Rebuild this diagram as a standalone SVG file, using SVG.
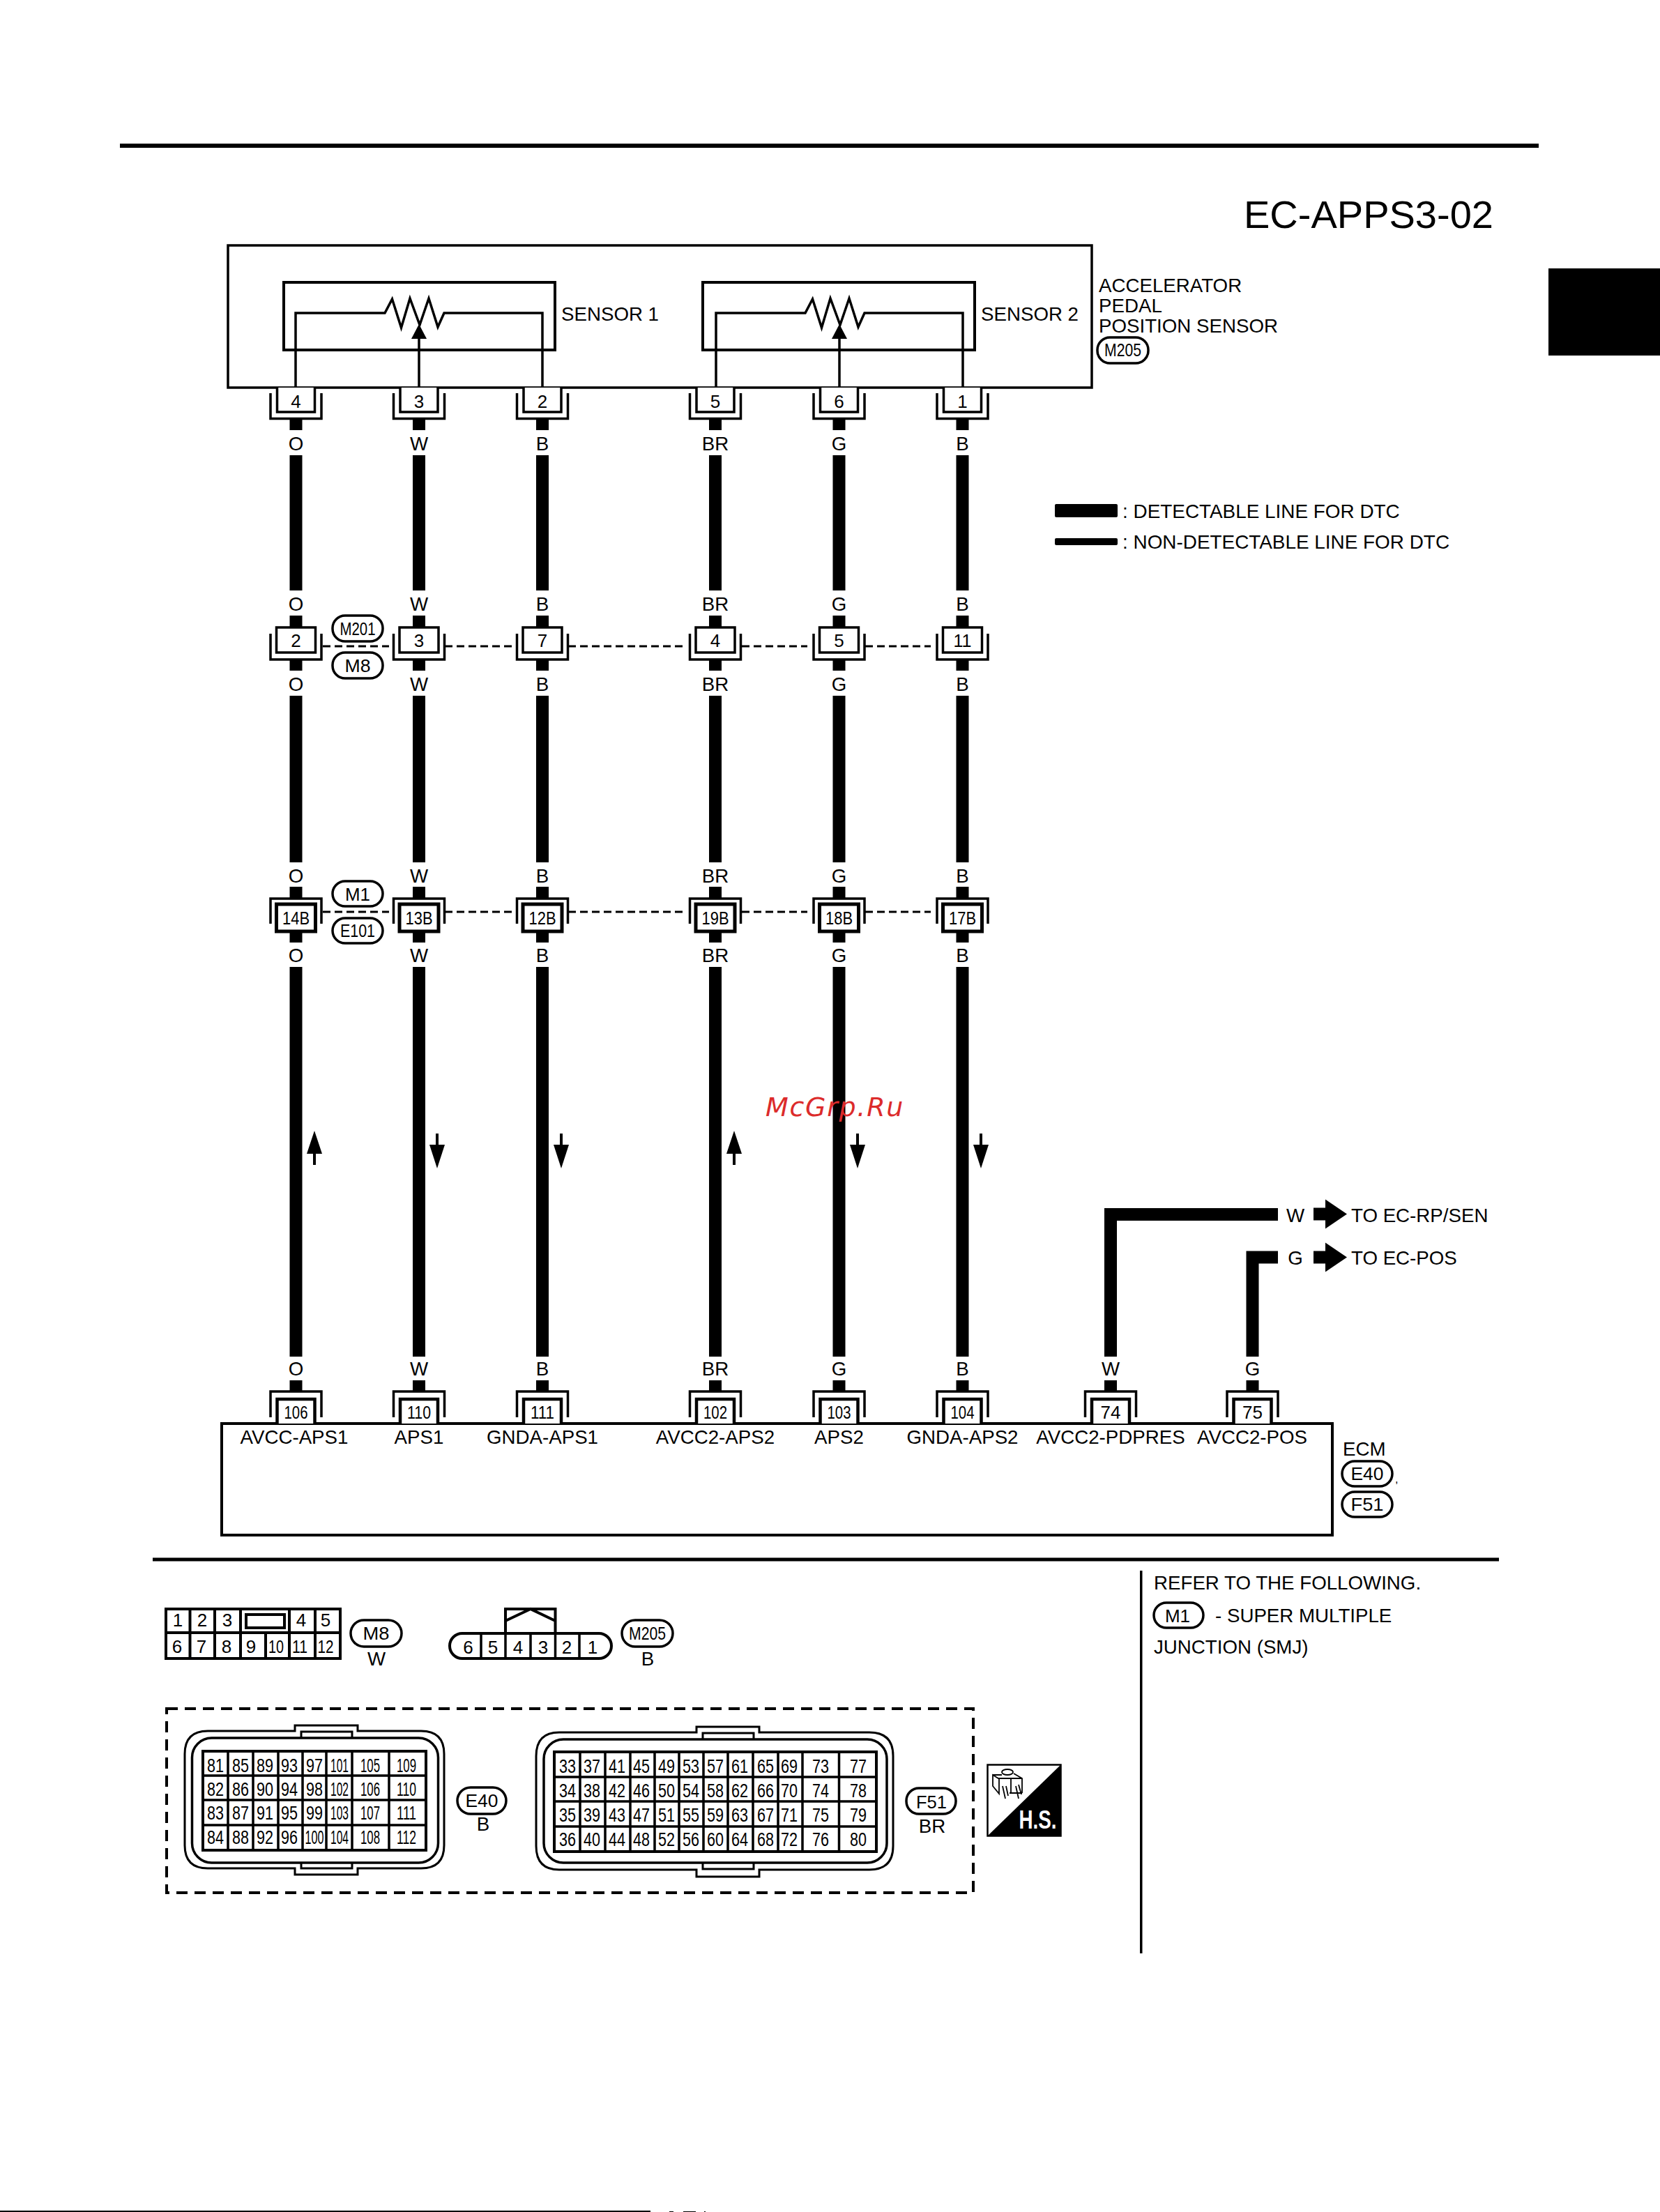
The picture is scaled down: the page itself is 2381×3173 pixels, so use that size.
<svg xmlns="http://www.w3.org/2000/svg" width="2381" height="3173" viewBox="0 0 2381 3173">
<style>
text{font-family:"Liberation Sans",Arial,sans-serif;fill:#000}
.t{font-size:27.700px;text-anchor:middle}
.s{font-size:27.700px}
.n{font-size:26px;text-anchor:middle}
.g{font-size:28px;text-anchor:middle}
.l{fill:none;stroke:#000;stroke-width:3.5}
.b{fill:#fff;stroke:#000;stroke-width:3.5}
.p{fill:#fff;stroke:#000;stroke-width:3.5}
.k{fill:#000}
.w{fill:none;stroke:#000;stroke-width:18}
.d{fill:none;stroke:#000;stroke-width:3;stroke-dasharray:11 6}
.w4{fill:none;stroke:#000;stroke-width:4}
</style>
<defs>
<g id="r"><path class="l" stroke-width="4" d="M424 556V449H552L562.500 429L575.500 470L588 428L602 466L615 428L628 469L637 449H778V556"/><path class="l" d="M601 556V480"/><path class="k" d="M601 465L612 486H590Z"/></g>
<g id="ca"><path class="b" d="M-27 556V591H27V556"/><path class="l" d="M-36.500 564V600.500H36.500V564"/></g>
<g id="cb"><rect class="b" x="-28" y="900" width="56" height="36"/><path class="l" d="M-36.500 909V946H36.500V909"/></g>
<g id="cc"><rect class="b" style="stroke-width:5" x="-28" y="1297" width="56" height="39"/><path class="l" d="M-36.500 1325V1289H36.500V1325"/></g>
<g id="cd"><path class="b" style="stroke-width:4.500" d="M-27 2042V2007H27V2042"/><path class="l" d="M-36.500 2033V1996H36.500V2033"/></g>
<path id="wire" class="w" d="M0 600V617M0 653V847M0 883V900M0 946V962M0 998V1237M0 1272V1289M0 1336V1352M0 1387V1946M0 1980V1996"/>
<g id="up"><path class="k" d="M0 1622L11 1655H-11Z"/><path class="w4" d="M0 1655V1671"/></g>
<g id="dn"><path class="k" d="M0 1676L11 1642H-11Z"/><path class="w4" d="M0 1642V1626"/></g>
<path id="arr" class="k" d="M0 -9H17V-21L48 0L17 21V9H0Z"/>
</defs>
<rect width="2381" height="3173" fill="#fff"/>

<g id="page-frame">
<rect class="k" x="172" y="206" width="2035" height="6"/>
<rect class="k" x="2221" y="385" width="160" height="125"/>
<rect class="k" x="0" y="3171" width="933" height="2"/>
<path class="k" d="M960 3172h6v1h-6zM980 3172h18v1h-18zM1010 3172h2v1h-2z"/>
<text x="1784" y="327" style="font-size:56px">EC-APPS3-02</text>
</g>

<g id="connectors">
<use href="#wire" x="424.500"/><use href="#wire" x="601"/><use href="#wire" x="778"/><use href="#wire" x="1026"/><use href="#wire" x="1203.500"/><use href="#wire" x="1380.500"/>
<path class="w" d="M1593 1946V1742H1833"/>
<path class="w" d="M1796.500 1946V1803.500H1833"/>
<path class="w" d="M1593 1980V1996M1796.500 1980V1996"/>
<path class="d" d="M463 927H558M638 927H735M815 927H981M1064 927H1158M1241 927H1335"/>
<path class="d" d="M463 1308H558M638 1308H735M815 1308H981M1064 1308H1158M1241 1308H1335"/>
<use href="#up" x="451"/><use href="#dn" x="627"/><use href="#dn" x="805"/><use href="#up" x="1053"/><use href="#dn" x="1230"/><use href="#dn" x="1407"/>
</g>

<g id="sensor">
<rect class="l" x="327" y="352" width="1239" height="204"/>
<rect class="l" style="stroke-width:4" x="407" y="405" width="389" height="97"/>
<rect class="l" style="stroke-width:4" x="1008" y="405" width="390" height="97"/>
<use href="#r"/><use href="#r" x="603"/>
<text class="s" x="805" y="460">SENSOR 1</text>
<text class="s" x="1407" y="460">SENSOR 2</text>
<text class="s" x="1576" y="419">ACCELERATOR</text>
<text class="s" x="1576" y="448">PEDAL</text>
<text class="s" x="1576" y="477">POSITION SENSOR</text>
<rect class="p" x="1574" y="484" width="73" height="37" rx="18"/>
<text class="n" x="1610.500" y="511" textLength="53" lengthAdjust="spacingAndGlyphs">M205</text>
</g>

<g id="sensor-pins">
<use href="#ca" x="424.500"/><text class="n" x="424.500" y="585">4</text>
<use href="#ca" x="601"/><text class="n" x="601" y="585">3</text>
<use href="#ca" x="778"/><text class="n" x="778" y="585">2</text>
<use href="#ca" x="1026"/><text class="n" x="1026" y="585">5</text>
<use href="#ca" x="1203.500"/><text class="n" x="1203.500" y="585">6</text>
<use href="#ca" x="1380.500"/><text class="n" x="1380.500" y="585">1</text>
</g>

<g id="wire-labels">
<text class="t" x="424.500" y="646">O</text><text class="t" x="601" y="646">W</text><text class="t" x="778" y="646">B</text><text class="t" x="1026" y="646">BR</text><text class="t" x="1203.500" y="646">G</text><text class="t" x="1380.500" y="646">B</text>
<text class="t" x="424.500" y="876">O</text><text class="t" x="601" y="876">W</text><text class="t" x="778" y="876">B</text><text class="t" x="1026" y="876">BR</text><text class="t" x="1203.500" y="876">G</text><text class="t" x="1380.500" y="876">B</text>
<text class="t" x="424.500" y="991">O</text><text class="t" x="601" y="991">W</text><text class="t" x="778" y="991">B</text><text class="t" x="1026" y="991">BR</text><text class="t" x="1203.500" y="991">G</text><text class="t" x="1380.500" y="991">B</text>
<text class="t" x="424.500" y="1266">O</text><text class="t" x="601" y="1266">W</text><text class="t" x="778" y="1266">B</text><text class="t" x="1026" y="1266">BR</text><text class="t" x="1203.500" y="1266">G</text><text class="t" x="1380.500" y="1266">B</text>
<text class="t" x="424.500" y="1380">O</text><text class="t" x="601" y="1380">W</text><text class="t" x="778" y="1380">B</text><text class="t" x="1026" y="1380">BR</text><text class="t" x="1203.500" y="1380">G</text><text class="t" x="1380.500" y="1380">B</text>
<text class="t" x="424.500" y="1973">O</text><text class="t" x="601" y="1973">W</text><text class="t" x="778" y="1973">B</text><text class="t" x="1026" y="1973">BR</text><text class="t" x="1203.500" y="1973">G</text><text class="t" x="1380.500" y="1973">B</text>
<text class="t" x="1593" y="1973">W</text><text class="t" x="1796.500" y="1973">G</text>
</g>

<g id="joint-m201-m8">
<use href="#cb" x="424.500"/><text class="n" x="424.500" y="928">2</text>
<use href="#cb" x="601"/><text class="n" x="601" y="928">3</text>
<use href="#cb" x="778"/><text class="n" x="778" y="928">7</text>
<use href="#cb" x="1026"/><text class="n" x="1026" y="928">4</text>
<use href="#cb" x="1203.500"/><text class="n" x="1203.500" y="928">5</text>
<use href="#cb" x="1380.500"/><text class="n" x="1380.500" y="928" textLength="26" lengthAdjust="spacingAndGlyphs">11</text>
<rect class="p" x="477" y="883" width="72" height="37" rx="18"/><text class="n" x="513" y="911" textLength="51" lengthAdjust="spacingAndGlyphs">M201</text>
<rect class="p" x="477" y="936" width="72" height="37" rx="18"/><text class="n" x="513" y="964" textLength="37" lengthAdjust="spacingAndGlyphs">M8</text>
</g>

<g id="joint-m1-e101">
<use href="#cc" x="424.500"/><text class="n" x="424.500" y="1326" textLength="39" lengthAdjust="spacingAndGlyphs">14B</text>
<use href="#cc" x="601"/><text class="n" x="601" y="1326" textLength="39" lengthAdjust="spacingAndGlyphs">13B</text>
<use href="#cc" x="778"/><text class="n" x="778" y="1326" textLength="39" lengthAdjust="spacingAndGlyphs">12B</text>
<use href="#cc" x="1026"/><text class="n" x="1026" y="1326" textLength="39" lengthAdjust="spacingAndGlyphs">19B</text>
<use href="#cc" x="1203.500"/><text class="n" x="1203.500" y="1326" textLength="39" lengthAdjust="spacingAndGlyphs">18B</text>
<use href="#cc" x="1380.500"/><text class="n" x="1380.500" y="1326" textLength="39" lengthAdjust="spacingAndGlyphs">17B</text>
<rect class="p" x="477" y="1264" width="72" height="36" rx="18"/><text class="n" x="513" y="1292" textLength="36" lengthAdjust="spacingAndGlyphs">M1</text>
<rect class="p" x="477" y="1317" width="72" height="36" rx="18"/><text class="n" x="513" y="1344" textLength="50" lengthAdjust="spacingAndGlyphs">E101</text>
</g>

<g id="ecm">
<rect class="l" style="stroke-width:4" x="318" y="2042" width="1593" height="160"/>
<use href="#cd" x="424.500"/><text class="n" x="424.500" y="2035" textLength="34" lengthAdjust="spacingAndGlyphs">106</text>
<use href="#cd" x="601"/><text class="n" x="601" y="2035" textLength="34" lengthAdjust="spacingAndGlyphs">110</text>
<use href="#cd" x="778"/><text class="n" x="778" y="2035" textLength="34" lengthAdjust="spacingAndGlyphs">111</text>
<use href="#cd" x="1026"/><text class="n" x="1026" y="2035" textLength="34" lengthAdjust="spacingAndGlyphs">102</text>
<use href="#cd" x="1203.500"/><text class="n" x="1203.500" y="2035" textLength="34" lengthAdjust="spacingAndGlyphs">103</text>
<use href="#cd" x="1380.500"/><text class="n" x="1380.500" y="2035" textLength="34" lengthAdjust="spacingAndGlyphs">104</text>
<use href="#cd" x="1593"/><text class="n" x="1593" y="2035">74</text>
<use href="#cd" x="1796.500"/><text class="n" x="1796.500" y="2035">75</text>
<text class="t" x="422" y="2071">AVCC-APS1</text>
<text class="t" x="601" y="2071">APS1</text>
<text class="t" x="778" y="2071">GNDA-APS1</text>
<text class="t" x="1026" y="2071">AVCC2-APS2</text>
<text class="t" x="1203.500" y="2071">APS2</text>
<text class="t" x="1380.500" y="2071">GNDA-APS2</text>
<text class="t" x="1593" y="2071">AVCC2-PDPRES</text>
<text class="t" x="1796" y="2071">AVCC2-POS</text>
<text class="s" x="1926" y="2088">ECM</text>
<rect class="p" x="1925" y="2096" width="72" height="36" rx="18"/><text class="n" x="1961" y="2123" textLength="47" lengthAdjust="spacingAndGlyphs">E40</text>
<text class="s" x="2001" y="2127" style="font-size:16px">,</text>
<rect class="p" x="1925" y="2140" width="72" height="36" rx="18"/><text class="n" x="1961" y="2167" textLength="47" lengthAdjust="spacingAndGlyphs">F51</text>
</g>

<g id="to-ec-rp-sen">
<text class="t" x="1858" y="1753">W</text>
<use href="#arr" x="1884" y="1741.500"/>
<text class="s" x="1938" y="1753">TO EC-RP/SEN</text>
</g>
<g id="to-ec-pos">
<text class="t" x="1858" y="1814">G</text>
<use href="#arr" x="1884" y="1803.500"/>
<text class="s" x="1938" y="1814">TO EC-POS</text>
</g>

<g id="legend">
<rect class="k" x="1513" y="723" width="90" height="19" rx="2"/>
<rect class="k" x="1513" y="772" width="90" height="10" rx="2"/>
<text x="1610" y="743" style="font-size:27.900px">: DETECTABLE LINE FOR DTC</text>
<text x="1610" y="787" style="font-size:27.900px">: NON-DETECTABLE LINE FOR DTC</text>
</g>

<text id="watermark" x="1098" y="1601" style="font-family:'DejaVu Sans',sans-serif;font-size:38px;font-style:italic;letter-spacing:1.700px;fill:#dc2b2b">McGrp.Ru</text>

<g id="lower-dividers">
<rect class="k" x="219" y="2234.500" width="1931" height="5"/>
<rect class="k" x="1635" y="2253" width="3.500" height="549"/>
</g>

<g id="note">
<text class="s" x="1655" y="2280">REFER TO THE FOLLOWING.</text>
<rect class="p" x="1655" y="2299" width="71" height="36" rx="18"/><text class="n" x="1689" y="2327">M1</text>
<text class="s" x="1743" y="2327">- SUPER MULTIPLE</text>
<text class="s" x="1655" y="2372">JUNCTION (SMJ)</text>
</g>

<g id="conn-m8">
<rect class="l" style="stroke-width:4" x="238" y="2308" width="250" height="71"/>
<path class="l" style="stroke-width:4" d="M238 2342H488M272.500 2308V2379M308 2308V2379M345 2308V2379M415 2308V2379M452 2308V2379M381 2342V2379"/>
<rect class="l" style="stroke-width:4" x="353" y="2316" width="55" height="19"/>
<text class="n" x="255" y="2333">1</text><text class="n" x="290" y="2333">2</text><text class="n" x="326" y="2333">3</text><text class="n" x="432" y="2333">4</text><text class="n" x="467" y="2333">5</text>
<text class="n" x="254" y="2371">6</text><text class="n" x="289" y="2371">7</text><text class="n" x="325" y="2371">8</text><text class="n" x="360" y="2371">9</text>
<text class="n" x="396" y="2371" textLength="22" lengthAdjust="spacingAndGlyphs">10</text><text class="n" x="430" y="2371" textLength="22" lengthAdjust="spacingAndGlyphs">11</text><text class="n" x="467" y="2371" textLength="23" lengthAdjust="spacingAndGlyphs">12</text>
<rect class="p" x="503" y="2324" width="73" height="38" rx="19"/><text class="n" x="539.500" y="2352" textLength="38" lengthAdjust="spacingAndGlyphs">M8</text>
<text class="t" x="540" y="2389">W</text>
</g>

<g id="conn-m205">
<path class="l" style="stroke-width:4" d="M725 2342V2308H796.500V2342M725 2325L761 2308L796.500 2325"/>
<rect class="l" style="stroke-width:4" x="645" y="2343" width="232" height="36" rx="18"/>
<path class="l" style="stroke-width:3.500" d="M690 2343V2379M725 2343V2379M761 2343V2379M796.500 2343V2379M831 2343V2379"/>
<text class="n" x="671.500" y="2372">6</text><text class="n" x="707" y="2372">5</text><text class="n" x="743" y="2372">4</text><text class="n" x="779" y="2372">3</text><text class="n" x="813" y="2372">2</text><text class="n" x="850" y="2372">1</text>
<rect class="p" x="892" y="2324" width="73" height="38" rx="19"/><text class="n" x="928.500" y="2352" textLength="53" lengthAdjust="spacingAndGlyphs">M205</text>
<text class="t" x="929" y="2389">B</text>
</g>

<rect id="harness-frame" class="l" style="stroke-width:4;stroke-dasharray:16 10" x="239" y="2451" width="1157" height="264"/>

<g id="conn-e40">
<path class="l" style="stroke-width:3" d="M298 2483H423V2475H513V2483H604Q637 2483 637 2516V2647Q637 2680 604 2680H513V2689H423V2680H298Q265 2680 265 2647V2516Q265 2483 298 2483Z"/>
<rect class="l" style="stroke-width:3.500" x="275.500" y="2493" width="353" height="179" rx="28"/>
<path class="l" style="stroke-width:3" d="M432 2493V2484H505V2493M432 2672V2680H505V2672"/>
<rect class="l" style="stroke-width:4" x="291" y="2512" width="320" height="142"/>
<path class="l" d="M291 2547H611M291 2582H611M291 2618H611M327 2512V2654M363 2512V2654M399 2512V2654M434 2512V2654M468 2512V2654M505 2512V2654M558 2512V2654"/>
<text class="g" x="309" y="2542" textLength="24" lengthAdjust="spacingAndGlyphs">81</text><text class="g" x="345" y="2542" textLength="24" lengthAdjust="spacingAndGlyphs">85</text><text class="g" x="380" y="2542" textLength="24" lengthAdjust="spacingAndGlyphs">89</text><text class="g" x="415" y="2542" textLength="24" lengthAdjust="spacingAndGlyphs">93</text><text class="g" x="451" y="2542" textLength="24" lengthAdjust="spacingAndGlyphs">97</text><text class="g" x="487" y="2542" textLength="26" lengthAdjust="spacingAndGlyphs">101</text><text class="g" x="531" y="2542" textLength="28" lengthAdjust="spacingAndGlyphs">105</text><text class="g" x="583" y="2542" textLength="28" lengthAdjust="spacingAndGlyphs">109</text>
<text class="g" x="309" y="2576" textLength="24" lengthAdjust="spacingAndGlyphs">82</text><text class="g" x="345" y="2576" textLength="24" lengthAdjust="spacingAndGlyphs">86</text><text class="g" x="380" y="2576" textLength="24" lengthAdjust="spacingAndGlyphs">90</text><text class="g" x="415" y="2576" textLength="24" lengthAdjust="spacingAndGlyphs">94</text><text class="g" x="451" y="2576" textLength="24" lengthAdjust="spacingAndGlyphs">98</text><text class="g" x="487" y="2576" textLength="26" lengthAdjust="spacingAndGlyphs">102</text><text class="g" x="531" y="2576" textLength="28" lengthAdjust="spacingAndGlyphs">106</text><text class="g" x="583" y="2576" textLength="28" lengthAdjust="spacingAndGlyphs">110</text>
<text class="g" x="309" y="2610" textLength="24" lengthAdjust="spacingAndGlyphs">83</text><text class="g" x="345" y="2610" textLength="24" lengthAdjust="spacingAndGlyphs">87</text><text class="g" x="380" y="2610" textLength="24" lengthAdjust="spacingAndGlyphs">91</text><text class="g" x="415" y="2610" textLength="24" lengthAdjust="spacingAndGlyphs">95</text><text class="g" x="451" y="2610" textLength="24" lengthAdjust="spacingAndGlyphs">99</text><text class="g" x="487" y="2610" textLength="26" lengthAdjust="spacingAndGlyphs">103</text><text class="g" x="531" y="2610" textLength="28" lengthAdjust="spacingAndGlyphs">107</text><text class="g" x="583" y="2610" textLength="28" lengthAdjust="spacingAndGlyphs">111</text>
<text class="g" x="309" y="2645" textLength="24" lengthAdjust="spacingAndGlyphs">84</text><text class="g" x="345" y="2645" textLength="24" lengthAdjust="spacingAndGlyphs">88</text><text class="g" x="380" y="2645" textLength="24" lengthAdjust="spacingAndGlyphs">92</text><text class="g" x="415" y="2645" textLength="24" lengthAdjust="spacingAndGlyphs">96</text><text class="g" x="451" y="2645" textLength="27" lengthAdjust="spacingAndGlyphs">100</text><text class="g" x="487" y="2645" textLength="26" lengthAdjust="spacingAndGlyphs">104</text><text class="g" x="531" y="2645" textLength="28" lengthAdjust="spacingAndGlyphs">108</text><text class="g" x="583" y="2645" textLength="28" lengthAdjust="spacingAndGlyphs">112</text>
<rect class="p" x="656" y="2564" width="70" height="38" rx="19"/><text class="n" x="691" y="2592" textLength="47" lengthAdjust="spacingAndGlyphs">E40</text>
<text class="t" x="693" y="2626">B</text>
</g>

<g id="conn-f51">
<path class="l" style="stroke-width:3" d="M802 2485H999V2477H1089V2485H1247Q1281 2485 1281 2519V2648Q1281 2682 1247 2682H1089V2692H999V2682H802Q769 2682 769 2648V2519Q769 2485 802 2485Z"/>
<rect class="l" style="stroke-width:3.500" x="780" y="2495" width="492" height="177" rx="28"/>
<path class="l" style="stroke-width:3" d="M1008 2495V2486H1081V2495M1008 2672V2681H1081V2672"/>
<rect class="l" style="stroke-width:4" x="795" y="2513" width="462" height="143"/>
<path class="l" d="M795 2549H1257M795 2584H1257M795 2620H1257M832 2513V2656M868 2513V2656M904 2513V2656M939 2513V2656M974 2513V2656M1009 2513V2656M1044 2513V2656M1080 2513V2656M1116 2513V2656M1151 2513V2656M1203.500 2513V2656"/>
<text class="g" x="814" y="2543" textLength="24" lengthAdjust="spacingAndGlyphs">33</text><text class="g" x="849" y="2543" textLength="24" lengthAdjust="spacingAndGlyphs">37</text><text class="g" x="885" y="2543" textLength="24" lengthAdjust="spacingAndGlyphs">41</text><text class="g" x="920" y="2543" textLength="24" lengthAdjust="spacingAndGlyphs">45</text><text class="g" x="956" y="2543" textLength="24" lengthAdjust="spacingAndGlyphs">49</text><text class="g" x="991" y="2543" textLength="24" lengthAdjust="spacingAndGlyphs">53</text><text class="g" x="1026" y="2543" textLength="24" lengthAdjust="spacingAndGlyphs">57</text><text class="g" x="1061" y="2543" textLength="24" lengthAdjust="spacingAndGlyphs">61</text><text class="g" x="1098" y="2543" textLength="24" lengthAdjust="spacingAndGlyphs">65</text><text class="g" x="1132" y="2543" textLength="24" lengthAdjust="spacingAndGlyphs">69</text><text class="g" x="1177" y="2543" textLength="24" lengthAdjust="spacingAndGlyphs">73</text><text class="g" x="1231" y="2543" textLength="24" lengthAdjust="spacingAndGlyphs">77</text>
<text class="g" x="814" y="2578" textLength="24" lengthAdjust="spacingAndGlyphs">34</text><text class="g" x="849" y="2578" textLength="24" lengthAdjust="spacingAndGlyphs">38</text><text class="g" x="885" y="2578" textLength="24" lengthAdjust="spacingAndGlyphs">42</text><text class="g" x="920" y="2578" textLength="24" lengthAdjust="spacingAndGlyphs">46</text><text class="g" x="956" y="2578" textLength="24" lengthAdjust="spacingAndGlyphs">50</text><text class="g" x="991" y="2578" textLength="24" lengthAdjust="spacingAndGlyphs">54</text><text class="g" x="1026" y="2578" textLength="24" lengthAdjust="spacingAndGlyphs">58</text><text class="g" x="1061" y="2578" textLength="24" lengthAdjust="spacingAndGlyphs">62</text><text class="g" x="1098" y="2578" textLength="24" lengthAdjust="spacingAndGlyphs">66</text><text class="g" x="1132" y="2578" textLength="24" lengthAdjust="spacingAndGlyphs">70</text><text class="g" x="1177" y="2578" textLength="24" lengthAdjust="spacingAndGlyphs">74</text><text class="g" x="1231" y="2578" textLength="24" lengthAdjust="spacingAndGlyphs">78</text>
<text class="g" x="814" y="2613" textLength="24" lengthAdjust="spacingAndGlyphs">35</text><text class="g" x="849" y="2613" textLength="24" lengthAdjust="spacingAndGlyphs">39</text><text class="g" x="885" y="2613" textLength="24" lengthAdjust="spacingAndGlyphs">43</text><text class="g" x="920" y="2613" textLength="24" lengthAdjust="spacingAndGlyphs">47</text><text class="g" x="956" y="2613" textLength="24" lengthAdjust="spacingAndGlyphs">51</text><text class="g" x="991" y="2613" textLength="24" lengthAdjust="spacingAndGlyphs">55</text><text class="g" x="1026" y="2613" textLength="24" lengthAdjust="spacingAndGlyphs">59</text><text class="g" x="1061" y="2613" textLength="24" lengthAdjust="spacingAndGlyphs">63</text><text class="g" x="1098" y="2613" textLength="24" lengthAdjust="spacingAndGlyphs">67</text><text class="g" x="1132" y="2613" textLength="24" lengthAdjust="spacingAndGlyphs">71</text><text class="g" x="1177" y="2613" textLength="24" lengthAdjust="spacingAndGlyphs">75</text><text class="g" x="1231" y="2613" textLength="24" lengthAdjust="spacingAndGlyphs">79</text>
<text class="g" x="814" y="2648" textLength="24" lengthAdjust="spacingAndGlyphs">36</text><text class="g" x="849" y="2648" textLength="24" lengthAdjust="spacingAndGlyphs">40</text><text class="g" x="885" y="2648" textLength="24" lengthAdjust="spacingAndGlyphs">44</text><text class="g" x="920" y="2648" textLength="24" lengthAdjust="spacingAndGlyphs">48</text><text class="g" x="956" y="2648" textLength="24" lengthAdjust="spacingAndGlyphs">52</text><text class="g" x="991" y="2648" textLength="24" lengthAdjust="spacingAndGlyphs">56</text><text class="g" x="1026" y="2648" textLength="24" lengthAdjust="spacingAndGlyphs">60</text><text class="g" x="1061" y="2648" textLength="24" lengthAdjust="spacingAndGlyphs">64</text><text class="g" x="1098" y="2648" textLength="24" lengthAdjust="spacingAndGlyphs">68</text><text class="g" x="1132" y="2648" textLength="24" lengthAdjust="spacingAndGlyphs">72</text><text class="g" x="1177" y="2648" textLength="24" lengthAdjust="spacingAndGlyphs">76</text><text class="g" x="1231" y="2648" textLength="24" lengthAdjust="spacingAndGlyphs">80</text>
<rect class="p" x="1300" y="2565" width="71" height="37" rx="18"/><text class="n" x="1336" y="2594" textLength="44" lengthAdjust="spacingAndGlyphs">F51</text>
<text class="t" x="1337" y="2629">BR</text>
</g>

<g id="hs-icon">
<rect x="1416.500" y="2531.500" width="105" height="102" fill="#fff" stroke="#000" stroke-width="2.500"/>
<path class="k" d="M1522 2531V2634H1416Z"/>
<ellipse cx="1445" cy="2542" rx="8" ry="4" fill="#fff" stroke="#000" stroke-width="1.800"/>
<path fill="none" stroke="#000" stroke-width="1.800" d="M1424 2546H1437M1454 2544L1466 2551V2572M1466 2551H1432L1424 2546V2562L1433 2573V2551M1450 2551V2572M1448 2572H1466M1438 2562L1442 2580M1443 2562L1446 2576M1457 2562L1461 2580M1461 2560L1465 2574"/>
<text x="1488.500" y="2623" text-anchor="middle" textLength="54" lengthAdjust="spacingAndGlyphs" style="font-size:36px;font-weight:bold;fill:#fff">H.S.</text>
</g>
</svg>
